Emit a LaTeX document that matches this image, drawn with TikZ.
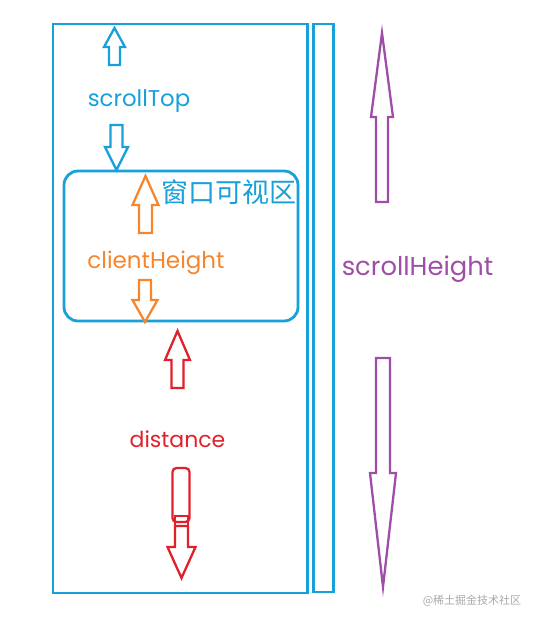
\documentclass[tikz,border=0pt]{standalone}
\usepackage{fontspec}
\setmainfont{Poppins}
\newfontfamily\cjk{Noto Sans CJK SC}
\definecolor{cblue}{HTML}{18A0DA}
\definecolor{corange}{HTML}{F5862E}
\definecolor{cred}{HTML}{E0202A}
\definecolor{cpurple}{HTML}{9E4EA6}
\definecolor{cgrey}{HTML}{A8A8A8}
\newcommand{\blockarrow}[7]{%
  \draw[#1] (#2,#3) -- (#2+#6,#4) -- (#2+#7,#4) -- (#2+#7,#5) -- (#2-#7,#5) -- (#2-#7,#4) -- (#2-#6,#4) -- cycle;}
\tikzset{
  box/.style={draw=cblue, line width=2.8pt},
  arr/.style={line width=2.3pt, line join=miter, miter limit=20},
  lbl/.style={inner sep=0pt, anchor=center},
}
\begin{document}
\begin{tikzpicture}[x=1pt,y=-1pt]
\useasboundingbox (0,0) rectangle (539,624);
% boxes
\draw[box] (53,24) rectangle (307.5,593);
\draw[box] (313.5,24) rectangle (333.5,592);
\draw[box, rounded corners=14pt] (64,171) rectangle (298,321);
% blue arrows
\blockarrow{draw=cblue,arr}{114.5}{28}{47}{65}{10.5}{5.5}
\blockarrow{draw=cblue,arr}{116.5}{170}{147}{125}{11.5}{6}
% orange arrows
\blockarrow{draw=corange,arr}{145.5}{176}{205}{233}{13}{6.5}
\blockarrow{draw=corange,arr}{145}{322}{300}{280}{12.5}{6}
% red arrows
\blockarrow{draw=cred,arr}{177.5}{331}{360}{388}{12.5}{6}
\draw[cred,arr,rounded corners=4pt] (172.5,522) rectangle (189.5,468);
\draw[cred,arr] (175,516) rectangle (188,526);
\blockarrow{draw=cred,arr}{181.5}{578}{547}{526}{14}{6.5}
% purple arrows
\blockarrow{draw=cpurple,arr}{382}{33}{117}{202}{11}{6}
\blockarrow{draw=cpurple,arr}{383}{587}{473}{358}{13}{7}
% texts
\node[lbl, text=cblue, font=\fontsize{22.8}{26}\selectfont] (st) at (139,101.5) {scrollTop};
\node[lbl, text=cblue, font=\cjk\fontsize{27}{30}\selectfont] (win) at (229,192.5) {窗口可视区};
\node[lbl, text=corange, font=\fontsize{23}{26}\selectfont] (ch) at (156,262.5) {clientHeight};
\node[lbl, text=cred, font=\fontsize{22}{25}\selectfont] (di) at (177.5,439.5) {distance};
\node[lbl, text=cpurple, font=\fontsize{25.8}{29}\selectfont] (sh) at (417.5,269.5) {scrollHeight};
\node[lbl, text=cgrey, font=\cjk\fontsize{11}{13}\selectfont] (wm) at (472,601) {@稀土掘金技术社区};
\end{tikzpicture}
\end{document}
